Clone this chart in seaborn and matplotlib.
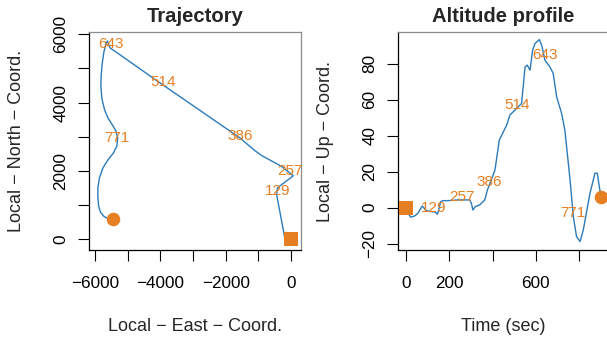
import matplotlib
matplotlib.use("Agg")
import matplotlib.pyplot as plt
import seaborn as sns

# trajectory (local east / north, metres)
traj_east = [-184, -438, -413, 70, -285, -888, -1103, -1562, -4013, -5544, -5621,
             -5667, -5728, -5774, -5811, -5820, -5789, -5706, -5605, -5468, -5360,
             -5305, -5330, -5437, -5605, -5758, -5866, -5912, -5912, -5890, -5835,
             -5728, -5605, -5437]
traj_north = [0, 1294, 1500, 1853, 2126, 2441, 2588, 2962, 4579, 5608, 5807,
              5719, 5485, 5191, 4810, 4458, 4106, 3784, 3549, 3344, 3168,
              2962, 2728, 2522, 2317, 2082, 1789, 1496, 1232, 968, 792,
              660, 601, 572]

# altitude profile (time in sec, local up)
alt_time = [0, 9, 22, 40, 55, 75, 94, 117, 135, 145, 151, 160, 171, 194, 240, 294,
            302, 309, 320, 340, 364, 376, 388, 411, 431, 465, 480, 511, 534, 550,
            560, 573, 585, 596, 616, 627, 642, 665, 680, 696, 719, 734, 758, 773,
            788, 804, 819, 850, 873, 884, 893, 901]
alt_up = [-1, -3.1, -5.3, -4.6, -3.1, 0.9, -1.7, -2.2, -2.4, -3.7, -1.3, 3.3, 3.9,
          3.9, 4.3, 4.3, 2.4, -1.3, 0.6, 1.5, 4.3, 9.8, 13.5, 20.9, 37.5, 45.8,
          51.4, 55.1, 57.8, 78.1, 79.1, 76.3, 87.4, 91.1, 93.3, 90.1, 81.8, 78.1,
          74.5, 61.5, 52.3, 43.0, 15.3, -5.0, -16.1, -18.8, -12.4, 8.0, 19.1,
          19.1, 11.6, 6.1]

# time stamps written along the track
label_times = [129, 257, 386, 514, 643, 771]
label_east = [-420, -31, -1562, -3911, -5513, -5339]
label_north = [1421, 1979, 3009, 4597, 5706, 2962]
label_up = [-0.3, 6.1, 14.4, 56.9, 84.6, -3.1]

start_east, start_north, start_time, start_up = 0, 0, 0, 0
end_east, end_north, end_time, end_up = -5437, 572, 901, 6.1

left_xticks = [-6000, -5000, -4000, -3000, -2000, -1000, 0]
left_xticklabels = ["\u22126000", "", "\u22124000", "", "\u22122000", "", "0"]
left_yticks = [0, 1000, 2000, 3000, 4000, 5000, 6000]
left_yticklabels = ["0", "", "2000", "", "4000", "", "6000"]
right_xticks = [0, 200, 400, 600, 800]
right_xticklabels = ["0", "200", "", "600", ""]
right_yticks = [-20, 0, 20, 40, 60, 80]
right_yticklabels = ["\u221220", "0", "20", "40", "60", "80"]

LINE = "#2b7bba"
ORANGE = "#e67e22"
GREY = "#8c8c8c"

sns.set_style("ticks")
plt.rcParams["font.family"] = ["Liberation Sans", "DejaVu Sans"]

fig = plt.figure(figsize=(6.07, 3.39), dpi=100)
W, H = 607, 339
ax1 = fig.add_axes([89 / W, (H - 250) / H, 212 / W, 218 / H])
ax2 = fig.add_axes([398 / W, (H - 250) / H, 210.6 / W, 218 / H])


def style_axis(ax, xt, xtl, yt, ytl):
    ax.set_xticks(xt)
    ax.set_xticklabels(xtl)
    ax.set_yticks(yt)
    ax.set_yticklabels(ytl)
    ax.tick_params(direction="out", length=8, width=0.8, colors="black",
                   labelsize=12.3)
    ax.tick_params(axis="x", pad=11)
    ax.tick_params(axis="y", pad=7)
    plt.setp(ax.get_yticklabels(), rotation=90, va="center")
    for side in ["left", "bottom"]:
        ax.spines[side].set_color("black")
        ax.spines[side].set_linewidth(0.9)
    for side in ["top", "right"]:
        ax.spines[side].set_color(GREY)
        ax.spines[side].set_linewidth(0.9)
        ax.spines[side].set_visible(True)


# left: trajectory
sns.lineplot(x=traj_east, y=traj_north, sort=False, estimator=None, ax=ax1,
             color=LINE, linewidth=1.0)
ax1.scatter([start_east], [start_north], marker="s", s=95, color=ORANGE, zorder=3,
            linewidths=0)
ax1.scatter([end_east], [end_north], marker="o", s=95, color=ORANGE, zorder=3,
            linewidths=0)
for t, x, y in zip(label_times, label_east, label_north):
    ax1.text(x, y, str(t), color=ORANGE, fontsize=11, ha="center", va="center")
ax1.set_xlim(-6184, 306)
ax1.set_ylim(-324, 6070)
style_axis(ax1, left_xticks, left_xticklabels, left_yticks, left_yticklabels)
ax1.set_title("Trajectory", fontsize=14.6, fontweight="bold", pad=7)
ax1.set_xlabel("Local \u2212 East \u2212 Coord.", fontsize=13, labelpad=19)
ax1.set_ylabel("Local \u2212 North \u2212 Coord.", fontsize=13, labelpad=20)

# right: altitude profile
sns.lineplot(x=alt_time, y=alt_up, sort=False, estimator=None, ax=ax2,
             color=LINE, linewidth=1.0)
ax2.scatter([start_time], [start_up], marker="s", s=95, color=ORANGE, zorder=3,
            linewidths=0)
ax2.scatter([end_time], [end_up], marker="o", s=95, color=ORANGE, zorder=3,
            linewidths=0, clip_on=False)
for t, y in zip(label_times, label_up):
    ax2.text(t, y, str(t), color=ORANGE, fontsize=11, ha="center", va="center")
ax2.set_xlim(-37, 936)
ax2.set_ylim(-23.5, 97.5)
style_axis(ax2, right_xticks, right_xticklabels, right_yticks, right_yticklabels)
ax2.set_title("Altitude profile", fontsize=14.6, fontweight="bold", pad=7)
ax2.set_xlabel("Time (sec)", fontsize=13, labelpad=19)
ax2.set_ylabel("Local \u2212 Up \u2212 Coord.", fontsize=13, labelpad=20)

fig.savefig("out.png", dpi=100)
